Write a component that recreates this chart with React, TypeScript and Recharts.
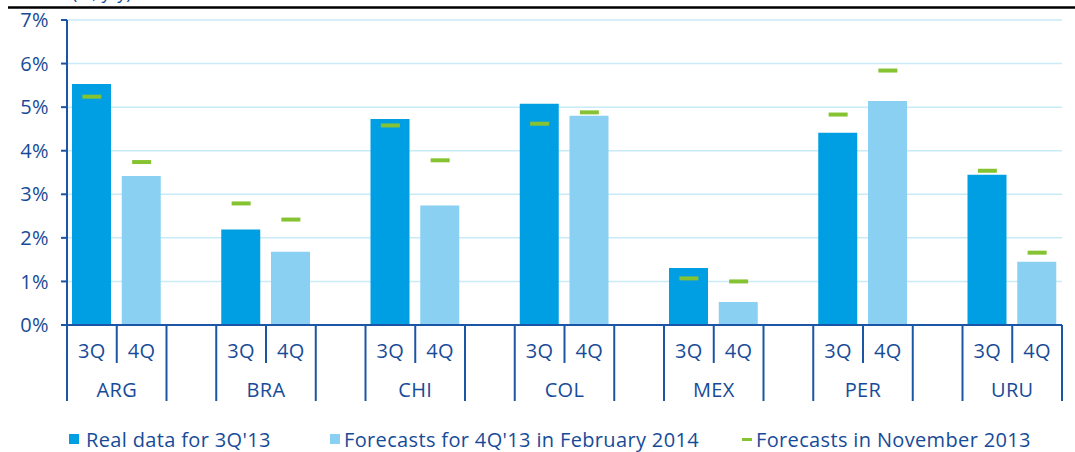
// GDP growth: real 3Q'13 vs 4Q'13 forecasts, with Nov 2013 forecast markers
import { ComposedChart, Bar, Line, XAxis, YAxis, CartesianGrid } from 'recharts';

const countries = ['ARG', 'BRA', 'CHI', 'COL', 'MEX', 'PER', 'URU'];
const quarters = ['3Q', '4Q'];
const real3Q = [5.53, 2.19, 4.73, 5.08, 1.31, 4.41, 3.45];
const forecast4Q = [3.42, 1.68, 2.74, 4.8, 0.53, 5.14, 1.45];
const nov3Q = [5.24, 2.79, 4.58, 4.62, 1.07, 4.83, 3.54];
const nov4Q = [3.74, 2.42, 3.78, 4.88, 1.0, 5.84, 1.66];
const yTicks = [0, 1, 2, 3, 4, 5, 6, 7];

const legendLabels = ['Real data for 3Q\'13', 'Forecasts for 4Q\'13 in February 2014', 'Forecasts in November 2013'];

type Row = {
  id: string;
  country: string;
  quarter: string;
  real: number | null;
  forecast: number | null;
  nov: number | null;
};

// one slot per quarter, plus an empty slot between countries
const data: Row[] = [];
countries.forEach((c, i) => {
  data.push({ id: `${c}-${quarters[0]}`, country: c, quarter: quarters[0], real: real3Q[i], forecast: null, nov: nov3Q[i] });
  data.push({ id: `${c}-${quarters[1]}`, country: c, quarter: quarters[1], real: null, forecast: forecast4Q[i], nov: nov4Q[i] });
  if (i < countries.length - 1) {
    data.push({ id: `gap-${i}`, country: '', quarter: '', real: null, forecast: null, nov: null });
  }
});

const W = 1075;
const H = 452;
const PLOT_LEFT = 67;
const PLOT_RIGHT = 1062;
const SLOT = (PLOT_RIGHT - PLOT_LEFT) / data.length;

const DARK = '#1b55a5';
const TEXT = '#174b98';
const REAL = '#009fe3';
const FCST = '#8ad0f2';
const NOV = '#86c332';
const GRID = '#c9eaf8';
const FONT = '"Open Sans", sans-serif';
const LS = 0.35;

function QuarterTick(props: any) {
  const { x, y, payload } = props;
  const row = data.find((d) => d.id === payload.value);
  if (!row || !row.quarter) return <g />;
  const half = SLOT / 2;
  const is3Q = row.quarter === quarters[0];
  return (
    <g>
      {is3Q ? (
        <>
          <line x1={x - half} y1={y} x2={x - half} y2={y + 76} stroke={DARK} strokeWidth={2} />
          <line x1={x + half} y1={y} x2={x + half} y2={y + 38} stroke={DARK} strokeWidth={2} />
          <text x={x + half} y={y + 72} textAnchor="middle" fontSize={20} fill={TEXT} fontFamily={FONT} letterSpacing={LS}>
            {row.country}
          </text>
        </>
      ) : (
        <line x1={x + half} y1={y} x2={x + half} y2={y + 76} stroke={DARK} strokeWidth={2} />
      )}
      <text x={x} y={y + 33} textAnchor="middle" fontSize={20} fill={TEXT} fontFamily={FONT} letterSpacing={LS}>
        {row.quarter}
      </text>
    </g>
  );
}

function NovMark(props: any) {
  const { cx, cy, value, index } = props;
  if (value == null || cy == null || isNaN(cy)) return <g key={`n-${index}`} />;
  return <rect key={`n-${index}`} x={cx - 9.5} y={cy - 2} width={19} height={4} fill={NOV} />;
}

export default function App() {
  return (
    <div style={{ position: 'absolute', left: 0, top: 0, width: W, height: H, background: '#fff', fontFamily: FONT }}>
      <ComposedChart
        width={W}
        height={H}
        data={data}
        margin={{ top: 20, right: W - PLOT_RIGHT, bottom: 47, left: 0 }}
      >
        <CartesianGrid horizontal vertical={false} stroke={GRID} strokeWidth={1.5} />
        <YAxis
          width={PLOT_LEFT}
          domain={[0, 7]}
          ticks={yTicks}
          interval={0}
          tickFormatter={(v: number) => `${v}%`}
          axisLine={{ stroke: DARK, strokeWidth: 2 }}
          tickLine={{ stroke: DARK, strokeWidth: 2 }}
          tickSize={6}
          tickMargin={12}
          tick={{ fontSize: 20, fill: TEXT, fontFamily: FONT, letterSpacing: LS }}
        />
        <XAxis
          dataKey="id"
          type="category"
          height={80}
          interval={0}
          tickLine={false}
          tickSize={0}
          tickMargin={0}
          axisLine={{ stroke: DARK, strokeWidth: 2 }}
          tick={<QuarterTick />}
        />
        <Bar dataKey="real" stackId="s" fill={REAL} barSize={39} isAnimationActive={false} />
        <Bar dataKey="forecast" stackId="s" fill={FCST} barSize={39} isAnimationActive={false} />
        <Line
          dataKey="nov"
          stroke="none"
          dot={NovMark}
          activeDot={false}
          legendType="none"
          isAnimationActive={false}
        />
      </ComposedChart>

      <svg width={W} height={H} style={{ position: 'absolute', left: 0, top: 0, pointerEvents: 'none' }}>
        <line x1={8} y1={7.5} x2={W} y2={7.5} stroke="#000" strokeWidth={2.5} />
        <text x={72} y={-1} fontSize={18} fill={TEXT} fontFamily={FONT}>(%, y/y)</text>

        <rect x={69} y={434} width={10} height={10} fill={REAL} />
        <text x={86} y={447} fontSize={20} fill={TEXT} fontFamily={FONT} letterSpacing={LS}>{legendLabels[0]}</text>

        <rect x={330} y={434} width={10} height={10} fill={FCST} />
        <text x={344} y={447} fontSize={20} fill={TEXT} fontFamily={FONT} letterSpacing={LS}>{legendLabels[1]}</text>

        <rect x={742} y={438} width={10} height={3} fill={NOV} />
        <text x={756} y={447} fontSize={20} fill={TEXT} fontFamily={FONT} letterSpacing={LS}>{legendLabels[2]}</text>
      </svg>
    </div>
  );
}
